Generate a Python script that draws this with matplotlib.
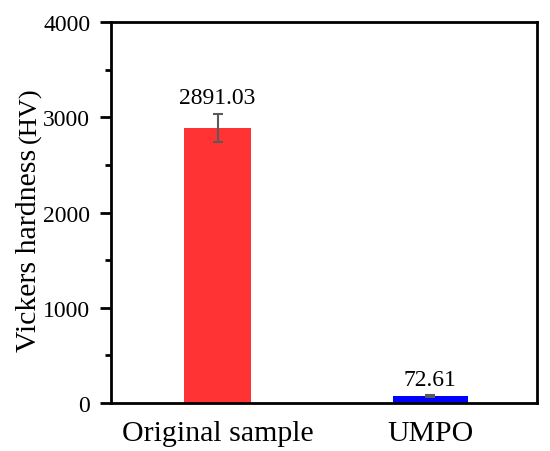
import numpy as np
import matplotlib.pyplot as plt
from matplotlib.ticker import MultipleLocator

plt.rcParams['font.family'] = ['Liberation Serif', 'DejaVu Serif']

samples = ["Original sample", "UMPO"]
hardness = [2891.03, 72.61]
errors = [145, 10]
colors = ["#FF3333", "#0000FF"]

fig = plt.figure(figsize=(5.5, 4.52), dpi=100)
ax = fig.add_axes([0.202, 0.106, 0.774, 0.843])

x = np.arange(len(samples))
ax.bar(x, hardness, width=[0.315, 0.35], color=colors, zorder=2)
ax.errorbar(x, hardness, yerr=errors, fmt="none", ecolor="#5a5a5a",
            elinewidth=1.5, capsize=3.5, capthick=1.5, zorder=3)

for xi, v, e in zip(x, hardness, errors):
    ax.text(xi, v + e + 110, f"{v:.2f}", ha="center", va="baseline", fontsize=17)

ax.set_xlim(-0.5, 1.5)
ax.set_ylim(0, 4000)
ax.set_xticks(x)
ax.set_xticklabels(samples, fontsize=21.5)
ax.yaxis.set_major_locator(MultipleLocator(1000))
ax.yaxis.set_minor_locator(MultipleLocator(500))
ax.tick_params(axis="y", which="major", length=8, width=2, labelsize=17, pad=7)
ax.tick_params(axis="y", which="minor", length=4.5, width=2)
ax.tick_params(axis="x", length=0, pad=12)
for s in ax.spines.values():
    s.set_linewidth(2)

# y label: "(HV)" is set smaller than the rest
fig.text(36 / 550, 1 - 352 / 452, "Vickers hardness", rotation=90, rotation_mode="anchor",
         ha="left", va="baseline", fontsize=21.5)
fig.text(36 / 550, 1 - 143 / 452, "(HV)", rotation=90, rotation_mode="anchor",
         ha="left", va="baseline", fontsize=19)

plt.savefig("out.png", dpi=100)
